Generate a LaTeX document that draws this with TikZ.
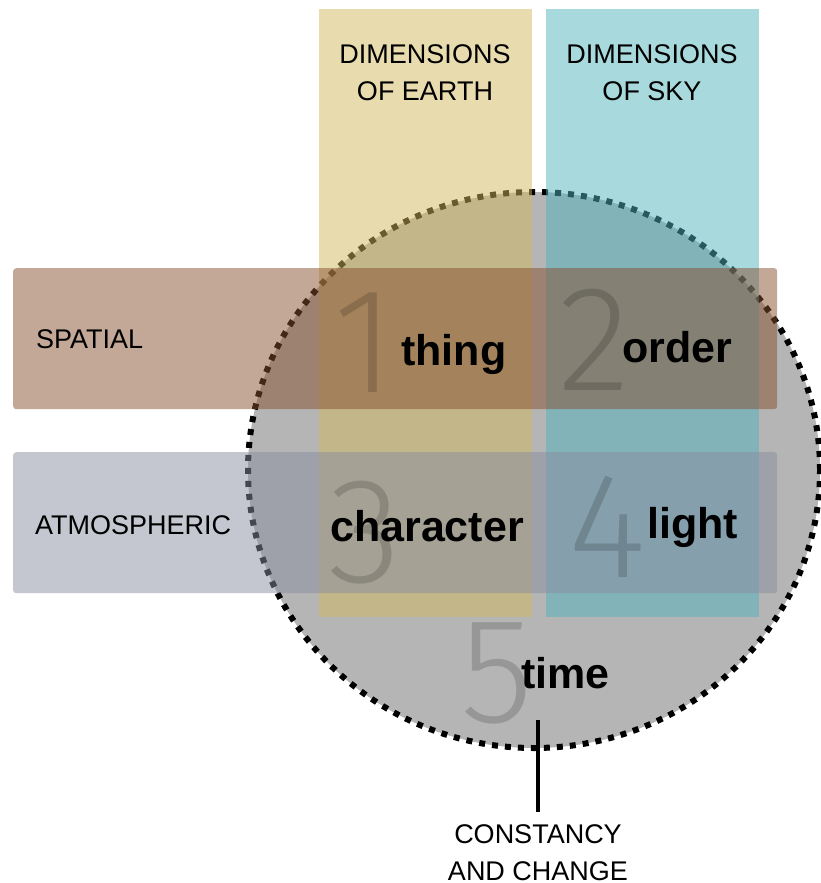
\documentclass[tikz,border=0pt]{standalone}
\usepackage{fontspec}
\setmainfont{Liberation Sans}
\newfontfamily\digitfont{Fira Sans Light}
\usetikzlibrary{shapes.geometric}

\definecolor{discgray}{RGB}{181,181,181}
\definecolor{earthcol}{RGB}{209,183,93}
\definecolor{skycol}{RGB}{81,179,187}
\definecolor{spatialcol}{RGB}{135,81,49}
\definecolor{atmoscol}{RGB}{137,141,161}

\begin{document}
\begin{tikzpicture}[x=1pt,y=-1pt,
  caption/.style={font=\fontsize{27}{37}\selectfont, inner sep=0pt, align=center},
  word/.style={font=\fontsize{43}{43}\selectfont\bfseries, inner sep=0pt, anchor=base west},
  numeral/.style={font=\digitfont\fontsize{150}{150}\selectfont, inner sep=0pt,
    text=black, text opacity=0.16, anchor=base west},
  column/.style={draw=none, fill opacity=0.5, inner sep=0pt, anchor=north west,
    minimum width=213pt, minimum height=608pt},
  band/.style={draw=none, fill opacity=0.5, inner sep=0pt, anchor=north west,
    rounded corners=3pt, minimum width=764pt, minimum height=141pt},
]
\useasboundingbox (0,0) rectangle (821,883);

% the disc of time, with its dotted rim
\node[ellipse, minimum width=572pt, minimum height=556pt, inner sep=0pt,
  fill=discgray, draw=black, line width=6pt, dash pattern=on 6pt off 7pt]
  (disc) at (534,470) {};

% the two columns
\node[column, fill=earthcol] (earth) at (319,9) {};
\node[column, fill=skycol] (sky) at (546,9) {};

% the two bands
\node[band, fill=spatialcol] (spatial) at (13,268) {};
\node[band, fill=atmoscol] (atmos) at (13,452) {};

% headings (base anchor sits on the last line)
\node[caption, anchor=base] (earthhead) at (425,100) {DIMENSIONS\\OF EARTH};
\node[caption, anchor=base] (skyhead) at (652,100) {DIMENSIONS\\OF SKY};
\node[caption, anchor=base west] (spatialhead) at (36,348) {SPATIAL};
\node[caption, anchor=base west] (atmoshead) at (35,534) {ATMOSPHERIC};

% numerals
\node[numeral] (n1) at (333,392) {1};
\node[numeral] (n2) at (558,390) {2};
\node[numeral] (n3) at (328,582) {3};
\node[numeral] (n4) at (568,577) {4};
\node[numeral] (n5) at (460,722) {5};

% words
\node[word] (thing) at (401,365) {thing};
\node[word] (order) at (622,362) {order};
\node[word] (character) at (330,541) {character};
\node[word] (light) at (647,538) {light};
\node[word] (time) at (521,688) {time};

% the marker below the disc
\node[caption, anchor=base] (constancy) at (538,880) {CONSTANCY\\AND CHANGE};
\coordinate (tick) at (538,720);
\draw[line width=4pt] (tick) -- ([yshift=12pt]constancy.north);
\end{tikzpicture}
\end{document}
